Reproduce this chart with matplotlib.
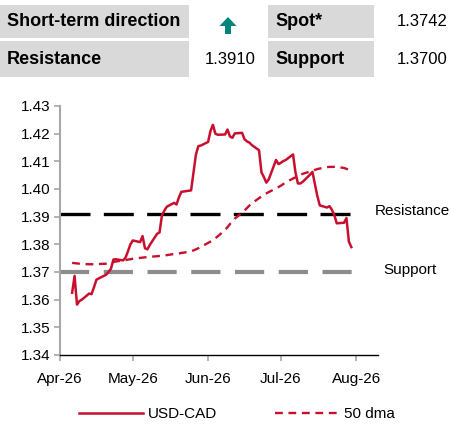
import matplotlib
matplotlib.use("Agg")
import matplotlib.pyplot as plt
import matplotlib.dates as mdates
from matplotlib.patches import Rectangle, Polygon
import pandas as pd

plt.rcParams['font.family'] = ['Liberation Sans', 'DejaVu Sans']

dates = pd.bdate_range('2026-04-06', '2026-07-30')

usdcad = [
    1.3625, 1.3686, 1.3582, 1.3595, 1.3600,
    1.3622, 1.3620, 1.3645, 1.3672, 1.3677,
    1.3690, 1.3700, 1.3712, 1.3745, 1.3746,
    1.3742, 1.3752, 1.3775, 1.3800, 1.3814,
    1.3808, 1.3830, 1.3786, 1.3782, 1.3798,
    1.3838, 1.3843, 1.3905, 1.3922, 1.3936,
    1.3950, 1.3944, 1.3970, 1.3990, 1.3991,
    1.3995, 1.4060, 1.4125, 1.4155, 1.4157,
    1.4170, 1.4210, 1.4232, 1.4200, 1.4196,
    1.4197, 1.4215, 1.4190, 1.4185, 1.4201,
    1.4203, 1.4180, 1.4172, 1.4168, 1.4159,
    1.4140, 1.4060, 1.4043, 1.4023, 1.4035,
    1.4105, 1.4090, 1.4095, 1.4101, 1.4105,
    1.4125, 1.4060, 1.4020, 1.4020, 1.4026,
    1.4052, 1.4062, 1.4018, 1.3975, 1.3941,
    1.3933, 1.3938, 1.3925, 1.3906, 1.3876,
    1.3878, 1.3895, 1.3810, 1.3790,
]

dma50 = [
    1.3733, 1.3732, 1.3731, 1.3730, 1.3729,
    1.3728, 1.3728, 1.3728, 1.3729, 1.3729,
    1.3730, 1.3731, 1.3733, 1.3736, 1.3738,
    1.3742, 1.3743, 1.3745, 1.3746, 1.3748,
    1.3751, 1.3752, 1.3753, 1.3754, 1.3755,
    1.3757, 1.3758, 1.3759, 1.3760, 1.3761,
    1.3765, 1.3766, 1.3767, 1.3769, 1.3770,
    1.3775, 1.3778, 1.3782, 1.3786, 1.3791,
    1.3805, 1.3810, 1.3815, 1.3822, 1.3829,
    1.3852, 1.3862, 1.3873, 1.3884, 1.3893,
    1.3914, 1.3922, 1.3931, 1.3940, 1.3948,
    1.3967, 1.3973, 1.3979, 1.3984, 1.3989,
    1.4002, 1.4007, 1.4012, 1.4018, 1.4024,
    1.4038, 1.4042, 1.4046, 1.4051, 1.4055,
    1.4063, 1.4066, 1.4069, 1.4072, 1.4074,
    1.4079, 1.4080, 1.4080, 1.4080, 1.4080,
    1.4076, 1.4073, 1.4069, 1.4066,
]

resistance = 1.3910
support = 1.3700
spot = 1.3742
yticks = [1.34, 1.35, 1.36, 1.37, 1.38, 1.39, 1.40, 1.41, 1.42, 1.43]
xtick_dates = ['2026-04-01', '2026-05-01', '2026-06-01', '2026-07-01', '2026-08-01']
level_span = ['2026-04-01', '2026-07-31']

W, H = 451, 436
fig = plt.figure(figsize=(W / 100, H / 100), dpi=100)

# Header table
grey = '#d9d9d9'
def box(x0, y0, x1, y1):
    fig.patches.append(Rectangle((x0 / W, 1 - y1 / H), (x1 - x0) / W, (y1 - y0) / H,
                                 transform=fig.transFigure, facecolor=grey,
                                 edgecolor='none', zorder=0))
box(0, 5, 189, 38)
box(268, 5, 374, 38)
box(0, 41, 189, 77)
box(268, 41, 374, 77)

def ftxt(x, y, s, ha='left', bold=False, size=13, color='black'):
    fig.text(x / W, 1 - y / H, s, ha=ha, va='center', fontsize=size,
             fontweight='bold' if bold else 'normal', color=color)

ftxt(7, 22, 'Short-term direction', bold=True, size=13)
ftxt(7, 59, 'Resistance', bold=True, size=13)
ftxt(275, 22, 'Spot*', bold=True, size=13)
ftxt(275, 59, 'Support', bold=True, size=13)
ftxt(448, 22, f'{spot:.4f}', ha='right', size=12)
ftxt(256, 59, f'{resistance:.4f}', ha='right', size=12)
ftxt(448, 59, f'{support:.4f}', ha='right', size=12)

# teal "up" direction arrow
arrow_px = [(228, 17), (236.5, 26), (231, 26), (231, 34), (225, 34),
            (225, 26), (219.5, 26)]
fig.patches.append(Polygon([(x / W, 1 - y / H) for x, y in arrow_px], closed=True,
                           transform=fig.transFigure, facecolor='#00857c',
                           edgecolor='none'))

# Chart
ax = fig.add_axes([60 / W, 1 - 355 / H, (378 - 60) / W, (355 - 106) / H])
red = '#c8102e'
span = [pd.Timestamp(d) for d in level_span]
ax.plot(span, [resistance, resistance], color='black', lw=2.4, dashes=(9, 4), zorder=2)
ax.plot(span, [support, support], color='#8c8c8c', lw=3.0, dashes=(7, 3.5), zorder=2)
l1, = ax.plot(dates, usdcad, color=red, lw=1.8, zorder=3, label='USD-CAD')
l2, = ax.plot(dates, dma50, color=red, lw=1.7, dashes=(3.3, 2.4), zorder=3, label='50 dma')

ax.set_ylim(1.34, 1.43)
ax.set_yticks(yticks)
ax.set_yticklabels([f'{v:.2f}' for v in yticks])
ax.set_xlim(pd.Timestamp('2026-04-01'), pd.Timestamp('2026-08-10'))
ax.set_xticks([pd.Timestamp(d) for d in xtick_dates])
ax.xaxis.set_major_formatter(mdates.DateFormatter('%b-%y'))

for s in ['top', 'right']:
    ax.spines[s].set_visible(False)
ax.spines['left'].set_color('#a6a6a6')
ax.spines['left'].set_linewidth(1.5)
ax.spines['bottom'].set_color('black')
ax.spines['bottom'].set_linewidth(1.0)
ax.tick_params(axis='both', direction='out', length=4, width=1.2, color='#a6a6a6',
               labelsize=11)
ax.tick_params(axis='x', pad=8)
ax.tick_params(axis='y', pad=3)
ax.set_facecolor('none')

fig.text(412 / W, 1 - 211 / H, 'Resistance', ha='center', va='center', fontsize=11)
fig.text(410 / W, 1 - 270 / H, 'Support', ha='center', va='center', fontsize=11)

fig.legend(handles=[l1, l2], loc='center', bbox_to_anchor=(0.525, 1 - 414 / H),
           ncol=2, frameon=False, fontsize=11, handlelength=4.2, columnspacing=3.8,
           handletextpad=0.3)

fig.savefig('out.png', dpi=100)
